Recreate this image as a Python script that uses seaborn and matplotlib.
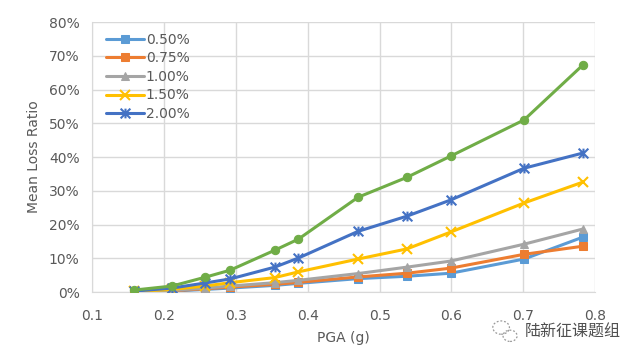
import numpy as np
import pandas as pd
import matplotlib
matplotlib.use("Agg")
import matplotlib.pyplot as plt
import seaborn as sns
from matplotlib.path import Path
from matplotlib.patches import Ellipse

pga = [0.158, 0.211, 0.257, 0.292, 0.354, 0.387, 0.470, 0.538, 0.599, 0.701, 0.783]

loss_050 = [0.1, 0.3, 0.8, 1.2, 2.0, 2.6, 4.0, 4.7, 5.6, 9.8, 16.3]
loss_075 = [0.1, 0.4, 1.0, 1.5, 2.3, 2.9, 4.5, 5.6, 7.1, 11.2, 13.6]
loss_100 = [0.1, 0.5, 1.2, 1.8, 2.8, 3.5, 5.5, 7.4, 9.2, 14.2, 18.7]
loss_150 = [0.2, 0.8, 1.8, 2.8, 4.3, 6.0, 9.8, 12.8, 17.8, 26.4, 32.6]
loss_200 = [0.3, 1.2, 2.7, 3.9, 7.4, 10.1, 18.0, 22.5, 27.3, 36.7, 41.2]
loss_extra = [0.6, 1.8, 4.4, 6.5, 12.4, 15.7, 28.1, 34.0, 40.3, 51.0, 67.3]

series_labels = ["0.50%", "0.75%", "1.00%", "1.50%", "2.00%", None]
series_values = [loss_050, loss_075, loss_100, loss_150, loss_200, loss_extra]
colors = ["#5B9BD5", "#ED7D31", "#A5A5A5", "#FFC000", "#4472C4", "#70AD47"]

# excel-style "star" marker: an x with a vertical bar through it
star = Path([(-1, -1), (1, 1), (-1, 1), (1, -1), (0, -1), (0, 1)],
            [Path.MOVETO, Path.LINETO, Path.MOVETO, Path.LINETO, Path.MOVETO, Path.LINETO])
markers = ["s", "s", "^", "x", star, "o"]

sns.set_style("whitegrid")
plt.rcParams["font.family"] = ["DejaVu Sans", "Noto Sans CJK SC"]

fig = plt.figure(figsize=(6.4, 3.58), dpi=100)
ax = fig.add_axes([0.144, 0.184, 0.786, 0.7545])

for label, vals, c, m in zip(series_labels, series_values, colors, markers):
    df = pd.DataFrame({"pga": pga, "loss": np.array(vals) / 100})
    kw = dict(markersize=6)
    if m is star or m == "x":
        kw.update(markersize=7, markeredgewidth=1.5)
    sns.lineplot(data=df, x="pga", y="loss", ax=ax, color=c, marker=m,
                 linewidth=2.2, markeredgecolor=c, label=label,
                 legend=label is not None, zorder=3, **kw)

ax.set_xlim(0.1, 0.8)
ax.set_ylim(0, 0.8)
ax.set_xticks(np.arange(0.1, 0.81, 0.1))
ax.set_yticks(np.arange(0, 0.81, 0.1))
ax.set_xticklabels([f"{v:.1f}" for v in np.arange(0.1, 0.81, 0.1)])
ax.set_yticklabels([f"{int(round(v * 100))}%" for v in np.arange(0, 0.81, 0.1)])
ax.tick_params(colors="#595959", labelsize=10, length=0)
ax.tick_params(axis="x", pad=12)
ax.tick_params(axis="y", pad=9)
ax.grid(color="#D9D9D9", linewidth=1)
for side in ["top", "right"]:
    ax.spines[side].set_visible(False)
for side in ["left", "bottom"]:
    ax.spines[side].set_color("#D9D9D9")
ax.set_xlabel("PGA (g)", color="#595959", fontsize=10, labelpad=6)
ax.set_ylabel("Mean Loss Ratio", color="#595959", fontsize=10, labelpad=6)

handles, labels = ax.get_legend_handles_labels()
leg = ax.legend(handles, labels, loc="upper left", bbox_to_anchor=(0.0, 1.012),
                frameon=False, fontsize=10, handlelength=2.7, handletextpad=0.15,
                labelspacing=0.33, borderaxespad=0.6)
for t in leg.get_texts():
    t.set_color("#595959")

# watermark with a rough sketch of the wechat logo
fig.text(0.895, 0.073, "陆新征课题组", family=["Noto Sans CJK SC", "DejaVu Sans"],
         fontsize=11.5, color="#505050", ha="center", va="center")
for cx, cy, w in [(0.783, 0.085, 0.026), (0.797, 0.062, 0.022)]:
    fig.patches.append(Ellipse((cx, cy), w, w * 640 / 358 * 0.8, transform=fig.transFigure,
                               fill=False, edgecolor="#9A9A9A", linestyle=(0, (1.5, 1.5)),
                               linewidth=0.9))

fig.savefig("out.png", dpi=100)
